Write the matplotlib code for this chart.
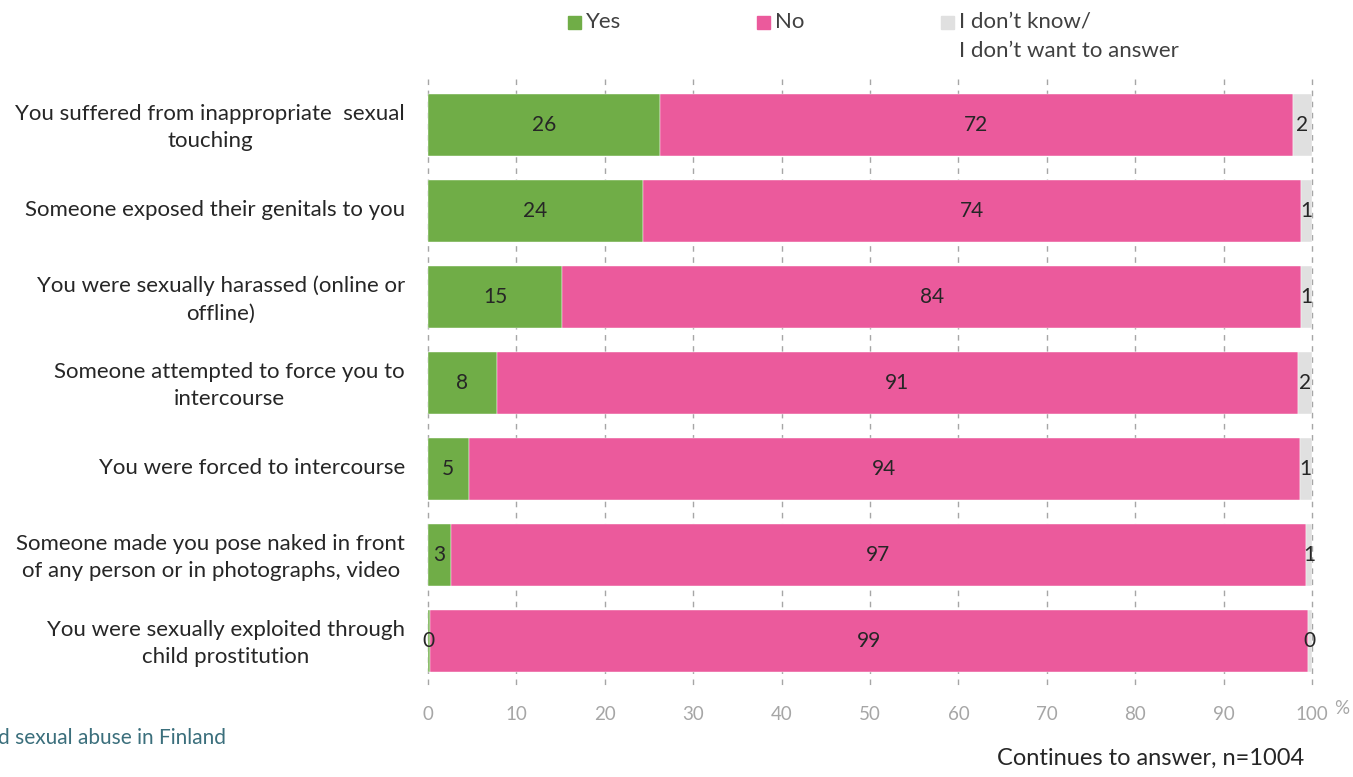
import matplotlib
matplotlib.use("Agg")
import matplotlib.pyplot as plt
from matplotlib.patches import Rectangle
from matplotlib.transforms import ScaledTranslation

plt.rcParams['font.family'] = ['Lato', 'DejaVu Sans']

categories = [
    "You suffered from inappropriate  sexual\ntouching",
    "Someone exposed their genitals to you",
    "You were sexually harassed (online or\noffline)",
    "Someone attempted to force you to\nintercourse",
    "You were forced to intercourse",
    "Someone made you pose naked in front\nof any person or in photographs, video",
    "You were sexually exploited through\nchild prostitution",
]
yes = [26.2, 24.3, 15.2, 7.8, 4.6, 2.6, 0.2]
no = [71.6, 74.5, 83.6, 90.6, 94.0, 96.7, 99.3]
dont_know = [2.2, 1.2, 1.2, 1.6, 1.4, 0.7, 0.5]
series_names = ["Yes", "No", "I don\u2019t know/\nI don\u2019t want to answer"]
x_ticks = [0, 10, 20, 30, 40, 50, 60, 70, 80, 90, 100]

colors = ["#70ad47", "#eb5a9c", "#e0e0e0"]
text_dark = "#262626"

W, H = 1353, 777
fig = plt.figure(figsize=(W / 100, H / 100), dpi=100)
ax = fig.add_axes([428 / W, 1 - 684 / H, (1312 - 428) / W, (684 - 82) / H])

n = len(categories)
ypos = list(range(n))
left = [0.0] * n
for vals, col in zip([yes, no, dont_know], colors):
    ax.barh(ypos, vals, left=left, height=0.72, color=col, zorder=2,
            edgecolor="white", linewidth=0.3)
    for i, v in enumerate(vals):
        ax.text(left[i] + v / 2, i, f"{round(v):d}", ha="center", va="center",
                fontsize=15, color=text_dark, zorder=3)
    left = [l + v for l, v in zip(left, vals)]

ax.set_xlim(0, 100)
ax.set_ylim(n - 0.5, -0.5)
ax.set_yticks(ypos)
ax.set_yticklabels(categories, fontsize=16, color=text_dark,
                   ha="right", multialignment="center", linespacing=1.45)
ax.tick_params(axis="y", length=0, pad=16.5)
lift = ScaledTranslation(0, 3 / 100, fig.dpi_scale_trans)
for lbl in ax.get_yticklabels():
    lbl.set_transform(lbl.get_transform() + lift)
ax.set_xticks(x_ticks)
ax.set_xticklabels([str(t) for t in x_ticks], fontsize=13.5, color="#a6a6a6")
ax.tick_params(axis="x", length=0, pad=16)
for s in ax.spines.values():
    s.set_visible(False)

# dashed vertical gridlines spanning slightly beyond the bars
for t in x_ticks:
    ax.plot([t, t], [-0.53, n - 0.43], color="#a6a6a6", lw=1,
            ls=(0, (4, 4)), zorder=1, clip_on=False)

fig.text(1334 / W, 1 - 708 / H, "%", fontsize=13.5, color="#a6a6a6",
         ha="left", va="center")

# legend drawn as square markers with labels
legend_items = [(568, 22), (757, 22), (941, 22)]
for (lx, ly), col, name in zip(legend_items, colors, series_names):
    fig.patches.append(Rectangle((lx / W, 1 - (ly + 7) / H), 13 / W, 13 / H,
                                 transform=fig.transFigure, color=col))
    fig.text((lx + 18) / W, 1 - (ly - 10) / H, name, fontsize=16,
             color="#404040", ha="left", va="top", linespacing=1.55)

fig.text(226 / W, 1 - 738 / H, "d sexual abuse in Finland", fontsize=15,
         color="#3b6f7c", ha="right", va="center")
fig.text(1304 / W, 1 - 758 / H, "Continues to answer, n=1004", fontsize=17,
         color=text_dark, ha="right", va="center")

fig.savefig("out.png", dpi=100)
